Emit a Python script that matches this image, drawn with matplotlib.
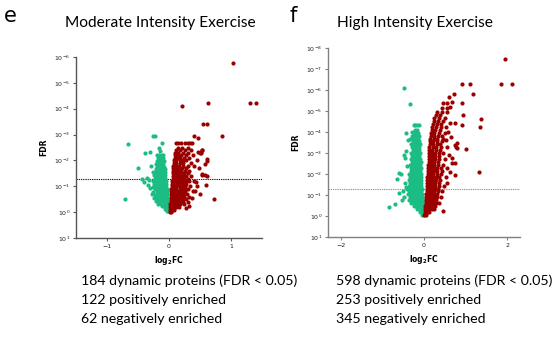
import numpy as np
import matplotlib
matplotlib.use("Agg")
import matplotlib.pyplot as plt
from matplotlib.ticker import LogLocator, NullLocator

GREEN = "#1cbd84"
RED = "#9b0000"

# --- Moderate intensity: rows of (-log10 FDR, [log2FC ...]) ---
mod_down_rows = [
    (0.04, [-0.03, -0.01]),
    (0.12, [-0.07, -0.04, -0.01]),
    (0.22, [-0.12, -0.08, -0.05, -0.02]),
    (0.33, [-0.17, -0.13, -0.09, -0.06, -0.02]),
    (0.44, [-0.21, -0.16, -0.12, -0.08, -0.04, -0.02]),
    (0.55, [-0.24, -0.19, -0.15, -0.11, -0.07, -0.03]),
    (0.66, [-0.22, -0.18, -0.14, -0.10, -0.06, -0.03]),
    (0.77, [-0.25, -0.20, -0.16, -0.12, -0.08, -0.04]),
    (0.88, [-0.23, -0.19, -0.15, -0.11, -0.07, -0.04]),
    (0.99, [-0.26, -0.21, -0.17, -0.13, -0.09, -0.05]),
    (1.10, [-0.24, -0.19, -0.15, -0.11, -0.07, -0.05]),
    (1.21, [-0.25, -0.21, -0.17, -0.13, -0.09, -0.05]),
    (1.32, [-0.23, -0.19, -0.15, -0.11, -0.07]),
    (1.43, [-0.24, -0.20, -0.16, -0.12, -0.08, -0.06]),
    (1.54, [-0.22, -0.18, -0.14, -0.10, -0.06]),
    (1.65, [-0.21, -0.17, -0.13, -0.09, -0.07]),
    (1.76, [-0.20, -0.16, -0.12, -0.08]),
    (1.87, [-0.21, -0.17, -0.13, -0.09]),
    (1.98, [-0.19, -0.15, -0.11, -0.08]),
    (2.09, [-0.18, -0.14, -0.10]),
    (2.20, [-0.16, -0.12, -0.09]),
]
mod_down_extra = [
    (-0.25, 2.93), (-0.23, 2.93), (-0.66, 2.65), (-0.12, 2.68), (-0.39, 2.29),
    (-0.31, 2.33), (-0.16, 2.50), (-0.50, 1.69), (-0.71, 0.49), (-0.44, 1.30),
    (-0.36, 1.34), (-0.33, 1.24), (-0.40, 1.18), (-0.28, 0.72), (-0.30, 0.95),
    (-0.34, 1.05), (-0.26, 1.55), (-0.29, 1.80), (-0.20, 2.20), (-0.14, 2.35),
]
mod_up_rows = [
    (0.02, [0.01, 0.03]),
    (0.10, [0.02, 0.05, 0.08]),
    (0.20, [0.02, 0.05, 0.09, 0.12, 0.16]),
    (0.30, [0.02, 0.06, 0.10, 0.13, 0.17, 0.24]),
    (0.40, [0.03, 0.06, 0.10, 0.14, 0.18, 0.22, 0.30]),
    (0.50, [0.03, 0.07, 0.11, 0.15, 0.19, 0.23, 0.27]),
    (0.60, [0.03, 0.07, 0.11, 0.15, 0.19, 0.24, 0.33]),
    (0.70, [0.04, 0.08, 0.12, 0.16, 0.20, 0.25, 0.29]),
    (0.80, [0.04, 0.08, 0.12, 0.16, 0.21, 0.26, 0.38]),
    (0.90, [0.04, 0.08, 0.12, 0.17, 0.22, 0.27, 0.31]),
    (1.00, [0.05, 0.09, 0.13, 0.17, 0.21, 0.26, 0.34, 0.45]),
    (1.10, [0.05, 0.09, 0.13, 0.18, 0.23, 0.28]),
    (1.20, [0.05, 0.09, 0.14, 0.18, 0.22, 0.27, 0.32, 0.40]),
    (1.30, [0.06, 0.10, 0.14, 0.19, 0.24, 0.30]),
    (1.40, [0.06, 0.10, 0.14, 0.18, 0.23, 0.28, 0.36]),
    (1.50, [0.06, 0.10, 0.15, 0.19, 0.24, 0.31]),
    (1.60, [0.07, 0.11, 0.15, 0.20, 0.26, 0.33]),
    (1.70, [0.07, 0.11, 0.16, 0.21, 0.28]),
    (1.80, [0.07, 0.12, 0.16, 0.22, 0.30, 0.40]),
    (1.90, [0.08, 0.12, 0.17, 0.23, 0.35]),
    (2.00, [0.08, 0.12, 0.17, 0.22, 0.27, 0.45]),
    (2.10, [0.09, 0.13, 0.18, 0.25, 0.32]),
    (2.20, [0.09, 0.14, 0.20, 0.28, 0.38]),
    (2.30, [0.10, 0.15, 0.22, 0.31, 0.51]),
    (2.40, [0.12, 0.18, 0.26, 0.36, 0.53]),
    (2.50, [0.14, 0.21, 0.30]),
]
mod_up_extra = [
    (1.03, 5.75), (0.63, 4.24), (1.30, 4.24), (1.40, 4.24), (0.205, 4.09),
    (0.55, 3.42), (0.61, 3.42), (0.85, 2.93), (0.41, 2.95), (0.47, 2.87),
    (0.73, 0.49), (0.12, 2.68), (0.15, 2.68), (0.20, 2.69), (0.26, 2.69),
    (0.30, 2.68), (0.34, 2.69), (0.37, 2.69), (0.47, 2.33), (0.51, 2.33),
    (0.62, 2.07), (0.62, 1.98), (0.53, 1.45), (0.58, 1.45), (0.60, 1.04),
    (0.37, 0.53), (0.54, 1.49), (0.61, 1.41), (0.53, 2.42), (0.50, 2.27),
    (0.58, 1.85), (0.48, 1.70), (0.44, 1.15), (0.42, 0.80), (0.50, 0.70),
    (0.33, 0.25), (0.28, 0.15),
]

# --- High intensity ---
high_down_rows = [
    (0.05, [-0.04, -0.01]),
    (0.19, [-0.10, -0.05, -0.01]),
    (0.33, [-0.17, -0.11, -0.06, -0.02]),
    (0.47, [-0.24, -0.18, -0.12, -0.07, -0.02]),
    (0.61, [-0.30, -0.24, -0.18, -0.12, -0.07, -0.03]),
    (0.75, [-0.36, -0.29, -0.23, -0.17, -0.11, -0.06, -0.03]),
    (0.89, [-0.33, -0.27, -0.21, -0.15, -0.10, -0.05]),
    (1.03, [-0.38, -0.31, -0.25, -0.19, -0.13, -0.08, -0.04]),
    (1.17, [-0.35, -0.29, -0.23, -0.17, -0.11, -0.06]),
    (1.31, [-0.40, -0.33, -0.27, -0.21, -0.15, -0.10, -0.05]),
    (1.45, [-0.36, -0.30, -0.24, -0.18, -0.12, -0.07]),
    (1.59, [-0.34, -0.28, -0.22, -0.16, -0.11, -0.06]),
    (1.73, [-0.37, -0.31, -0.25, -0.19, -0.13, -0.08]),
    (1.87, [-0.33, -0.27, -0.21, -0.15, -0.10, -0.07]),
    (2.01, [-0.35, -0.29, -0.23, -0.17, -0.12, -0.07]),
    (2.15, [-0.32, -0.26, -0.20, -0.14, -0.09]),
    (2.29, [-0.30, -0.24, -0.18, -0.13, -0.08]),
    (2.43, [-0.33, -0.27, -0.21, -0.15, -0.10]),
    (2.57, [-0.29, -0.23, -0.17, -0.12, -0.08]),
    (2.71, [-0.31, -0.25, -0.19, -0.14, -0.09]),
    (2.85, [-0.28, -0.22, -0.16, -0.11]),
    (2.99, [-0.30, -0.24, -0.18, -0.13, -0.09]),
    (3.13, [-0.27, -0.21, -0.15, -0.11]),
    (3.27, [-0.29, -0.23, -0.17, -0.12]),
    (3.41, [-0.31, -0.25, -0.19, -0.14, -0.10]),
    (3.55, [-0.27, -0.21, -0.16, -0.12]),
    (3.69, [-0.33, -0.26, -0.20, -0.15]),
    (3.83, [-0.29, -0.23, -0.18, -0.13]),
    (3.97, [-0.25, -0.19, -0.14]),
    (4.11, [-0.22, -0.17]),
    (4.32, [-0.25, -0.21, -0.16, -0.13]),
]
high_down_extra = [
    (-0.48, 6.08), (-0.33, 5.32), (-0.43, 3.94), (-0.49, 2.90), (-0.59, 2.03),
    (-0.65, 1.75), (-0.85, 0.41), (-0.69, 0.57), (-0.55, 2.00), (-0.60, 1.11),
    (-0.45, 1.56), (-0.50, 1.20), (-0.47, 0.90), (-0.52, 0.75), (-0.44, 1.40),
    (-0.40, 2.40), (-0.42, 3.10), (-0.38, 3.60), (-0.29, 4.01), (-0.17, 3.75),
    (-0.45, 2.75),
]
high_up_rows = [
    (0.05, [0.01, 0.04]),
    (0.19, [0.02, 0.06, 0.11]),
    (0.33, [0.02, 0.07, 0.12, 0.18, 0.25]),
    (0.47, [0.03, 0.08, 0.13, 0.19, 0.26]),
    (0.61, [0.04, 0.09, 0.15, 0.21, 0.28, 0.36]),
    (0.75, [0.04, 0.10, 0.16, 0.22, 0.29]),
    (0.89, [0.05, 0.11, 0.17, 0.23, 0.30, 0.40]),
    (1.03, [0.05, 0.11, 0.17, 0.24, 0.31]),
    (1.17, [0.06, 0.12, 0.18, 0.25, 0.33, 0.44]),
    (1.31, [0.06, 0.12, 0.19, 0.26, 0.34]),
    (1.45, [0.07, 0.13, 0.20, 0.27, 0.36, 0.48]),
    (1.59, [0.07, 0.13, 0.20, 0.27, 0.35]),
    (1.73, [0.08, 0.14, 0.21, 0.28, 0.38]),
    (1.87, [0.08, 0.15, 0.22, 0.29, 0.37, 0.52]),
    (2.01, [0.09, 0.15, 0.22, 0.30, 0.40]),
    (2.15, [0.09, 0.16, 0.23, 0.31, 0.43]),
    (2.29, [0.10, 0.16, 0.24, 0.32, 0.41]),
    (2.43, [0.10, 0.17, 0.24, 0.33, 0.45]),
    (2.57, [0.11, 0.18, 0.25, 0.34]),
    (2.71, [0.11, 0.18, 0.26, 0.36, 0.50]),
    (2.85, [0.12, 0.19, 0.27, 0.35]),
    (2.99, [0.12, 0.19, 0.27, 0.37, 0.46]),
    (3.13, [0.13, 0.20, 0.28, 0.38]),
    (3.27, [0.13, 0.21, 0.29, 0.40, 0.55]),
    (3.41, [0.14, 0.21, 0.30, 0.39]),
    (3.55, [0.14, 0.22, 0.31, 0.42]),
    (3.69, [0.15, 0.23, 0.32, 0.45]),
    (3.83, [0.16, 0.24, 0.33, 0.43]),
    (3.97, [0.17, 0.25, 0.35, 0.50]),
    (4.11, [0.18, 0.27, 0.38]),
    (4.25, [0.20, 0.29, 0.41, 0.52]),
    (4.39, [0.22, 0.31, 0.40]),
    (4.53, [0.24, 0.33, 0.46]),
    (4.67, [0.25, 0.36, 0.50]),
    (4.81, [0.28, 0.39]),
    (4.95, [0.30, 0.44, 0.55]),
]
high_up_extra = [
    (1.94, 7.46), (0.90, 6.27), (1.11, 6.27), (1.85, 6.27), (2.11, 6.27),
    (1.17, 5.80), (0.71, 5.81), (0.60, 5.68), (0.54, 5.40), (0.66, 5.44),
    (0.46, 5.37), (0.90, 5.40), (0.42, 5.13), (0.54, 5.13), (0.62, 5.17),
    (0.94, 4.81), (1.36, 4.62), (1.33, 4.25), (0.90, 4.33), (0.74, 4.44),
    (0.62, 4.44), (0.78, 3.46), (0.79, 3.22), (1.00, 3.18), (0.66, 2.51),
    (0.74, 2.51), (1.32, 2.11), (0.46, 0.24), (0.62, 2.10), (0.74, 1.95),
    (0.54, 1.56), (0.75, 3.38), (0.77, 3.30), (0.64, 3.75), (0.58, 4.00),
    (0.52, 3.60), (0.60, 2.90), (0.56, 2.30), (0.68, 2.75),
]

titles = ["Moderate Intensity Exercise", "High Intensity Exercise"]
panel_letters = ["e", "f"]
summary = [
    ["184 dynamic proteins (FDR < 0.05)", "122 positively enriched", "62 negatively enriched"],
    ["598 dynamic proteins (FDR < 0.05)", "253 positively enriched", "345 negatively enriched"],
]
fdr_cut = 0.05


def collect(rows, extra):
    fc = [x for y, xs in rows for x in xs] + [p[0] for p in extra]
    lg = [y for y, xs in rows for x in xs] + [p[1] for p in extra]
    return np.array(fc), 10.0 ** (-np.array(lg))


fig = plt.figure(figsize=(5.58, 3.45), dpi=100)

panels = [
    dict(rect=[0.1362, 0.3101, 0.3333, 0.5247], xlim=(-1.5, 1.5), xticks=[-1, 0, 1],
         ytop=-6, down=(mod_down_rows, mod_down_extra), up=(mod_up_rows, mod_up_extra),
         cut_color="#222222", spine="#555555", text_x=81, letter_x=4, title_x=160),
    dict(rect=[0.5878, 0.3130, 0.3441, 0.5478], xlim=(-2.3, 2.3), xticks=[-2, 0, 2],
         ytop=-8, down=(high_down_rows, high_down_extra), up=(high_up_rows, high_up_extra),
         cut_color="#999999", spine="#808080", text_x=336, letter_x=290, title_x=415),
]

for i, p in enumerate(panels):
    ax = fig.add_axes(p["rect"])
    fc, fdr = collect(*p["down"])
    ax.scatter(fc, fdr, s=9, c=GREEN, linewidths=0, zorder=3)
    fc, fdr = collect(*p["up"])
    ax.scatter(fc, fdr, s=9, c=RED, linewidths=0, zorder=3)
    ax.axhline(fdr_cut, color=p["cut_color"], lw=0.8, ls=(0, (1.2, 0.8)), zorder=2)

    ax.set_yscale("log")
    ax.set_ylim(10.0, 10.0 ** p["ytop"])
    ax.yaxis.set_major_locator(LogLocator(base=10, numticks=20))
    ax.yaxis.set_minor_locator(NullLocator())
    ax.set_xlim(*p["xlim"])
    ax.set_xticks(p["xticks"])

    for side in ["top", "right"]:
        ax.spines[side].set_visible(False)
    for side in ["left", "bottom"]:
        ax.spines[side].set_color(p["spine"])
        ax.spines[side].set_linewidth(1.0)
    ax.tick_params(axis="both", length=2.5, width=0.8, color=p["spine"],
                   labelsize=4.5, pad=1.5, labelcolor="#222222")

    ax.set_ylabel("FDR", fontsize=5.5, fontweight="bold", labelpad=4)
    ax.set_xlabel(r"$\mathbf{log_2FC}$", fontsize=5.5, labelpad=4)

    fig.text(p["letter_x"] / 558, 1 - 16 / 345, panel_letters[i], fontsize=15,
             family="DejaVu Sans", ha="left", va="center")
    fig.text(p["title_x"] / 558, 1 - 23 / 345, titles[i], fontsize=11.2,
             family="Lato", ha="center", va="center")
    for j, line in enumerate(summary[i]):
        fig.text(p["text_x"] / 558, 1 - (281 + 19 * j) / 345, line, fontsize=10.2,
                 family="Lato", ha="left", va="center")

fig.savefig("out.png", dpi=100)
